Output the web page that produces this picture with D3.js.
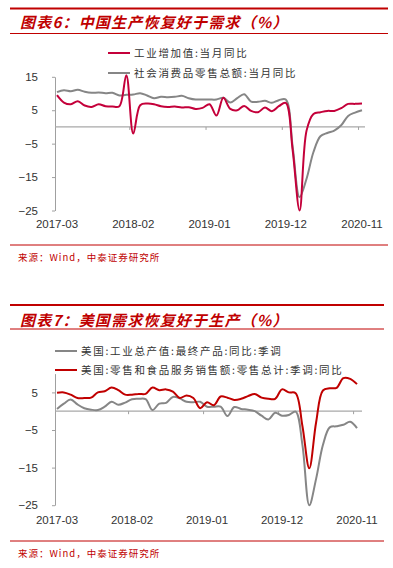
<!DOCTYPE html>
<html><head><meta charset="utf-8">
<script src="https://cdn.jsdelivr.net/npm/d3@7/dist/d3.min.js"></script>
<style>body{margin:0;background:#fff}svg{display:block}</style>
</head><body>
<script>
const months = ["2017-03","2017-04","2017-05","2017-06","2017-07","2017-08","2017-09","2017-10","2017-11","2017-12",
"2018-01","2018-02","2018-03","2018-04","2018-05","2018-06","2018-07","2018-08","2018-09","2018-10","2018-11","2018-12",
"2019-01","2019-02","2019-03","2019-04","2019-05","2019-06","2019-07","2019-08","2019-09","2019-10","2019-11","2019-12",
"2020-01","2020-02","2020-03","2020-04","2020-05","2020-06","2020-07","2020-08","2020-09","2020-10","2020-11"];
const tickLabels = ["2017-03","2018-02","2019-01","2019-12","2020-11"];
const yTickValues = [15,5,-5,-15,-25];

// Chart 6: China
const chinaIndustry = [9.5,7.3,6.8,7.7,6.4,6.0,6.8,6.2,6.1,6.2,
15.5,-2.0,6.5,7.0,6.8,6.2,6.0,6.1,5.8,5.9,5.4,5.7,
6.8,3.4,8.7,5.4,5.0,6.3,4.8,4.4,5.8,4.7,6.2,7.2,
-7,-25,-1.1,3.9,4.4,4.8,4.8,5.6,6.9,6.9,7.0];
const chinaRetail = [10.4,11.0,10.7,11.1,10.5,10.2,10.3,10.1,10.2,9.4,
9.6,9.7,10.1,9.4,8.6,9.0,8.9,9.0,9.3,8.6,8.2,8.2,
8.2,8.2,8.7,7.3,8.6,9.8,7.6,7.5,7.8,7.2,8.0,8.2,
-6,-21,-15.5,-7.5,-2.8,-1.8,-1.1,0.5,3.3,4.3,5.0];

// Chart 7: US
const usIndustry = [0.6,2.0,3.1,1.8,0.8,0.4,0.3,1.2,2.5,1.7,
2.3,3.2,3.3,3.2,0.3,2.0,2.2,3.8,3.4,2.5,2.4,2.5,
1.2,1.2,1.2,-1.3,1.1,0.6,0.4,0.0,-1.2,-2.2,-0.4,-1.2,
-1.0,-0.1,-9,-25,-18,-9,-4.3,-4.0,-3.6,-2.8,-4.5];
const usRetail = [4.9,5.0,4.4,3.5,3.5,3.6,5.0,5.3,6.3,5.6,
4.4,4.4,4.6,4.6,6.3,5.6,5.8,5.2,3.5,4.2,3.5,0.8,
2.4,1.6,3.9,3.6,3.0,3.3,4.0,4.6,3.6,3.3,3.3,5.8,
5.0,4.8,-4.0,-15.2,-3.0,5.5,6.1,6.2,8.8,8.6,7.2];

const RED = "#c00000";
const GRAY = "#868686";
const CJK = "'Noto Sans CJK SC', 'Noto Sans', sans-serif";
const LAT = "'Liberation Sans', Arial, sans-serif";

const svg = d3.select("body").append("svg").attr("width",393).attr("height",568);

function fmt(d){ return d < 0 ? "\u2212" + Math.abs(d) : String(d); }

function drawChart(c){
  const g = svg.append("g");
  // header rules and title
  g.append("line").attr("x1",10).attr("x2",c.right).attr("y1",c.top).attr("y2",c.top)
    .attr("stroke",RED).attr("stroke-width",2);
  g.append("text").attr("x",20).attr("y",c.titleY).text(c.title)
    .attr("fill",RED).attr("font-family",CJK).attr("font-size",15).attr("font-weight","bold")
    .attr("font-style","italic").attr("letter-spacing",1.2);
  g.append("line").attr("x1",10).attr("x2",c.right).attr("y1",c.underY).attr("y2",c.underY)
    .attr("stroke",RED).attr("stroke-width",1);

  const x = d3.scalePoint().domain(months).range(c.xRange);
  const y = d3.scaleLinear().domain(c.yDomain).range(c.yRange);

  // y axis
  const yAxis = d3.axisLeft(y).tickValues(c.yTicks).tickSize(3).tickSizeOuter(0).tickPadding(14).tickFormat(fmt);
  const ya = g.append("g").attr("transform",`translate(${c.axisX},0)`).call(yAxis);
  ya.select(".domain").attr("stroke","#a0a0a0");
  ya.selectAll(".tick line").attr("stroke","#a0a0a0");
  ya.selectAll(".tick text").attr("fill","#333").attr("font-family",LAT).attr("font-size",11.5);

  // zero line + x ticks
  g.append("line").attr("x1",c.axisX).attr("x2",c.zeroEnd).attr("y1",y(0)).attr("y2",y(0))
    .attr("stroke","#a8a8a8").attr("stroke-width",1.2);
  const half = x.step()/2;
  g.selectAll(".xt").data(tickLabels.slice(1)).join("line")
    .attr("x1",d=>x(d)-half).attr("x2",d=>x(d)-half).attr("y1",y(0)).attr("y2",y(0)+3)
    .attr("stroke","#a0a0a0");
  g.selectAll(".xl").data(tickLabels).join("text")
    .attr("x",d=>x(d)).attr("y",c.labelY).attr("text-anchor","middle").text(d=>d)
    .attr("fill","#333").attr("font-family",LAT).attr("font-size",11.5);

  // series
  const line = d3.line().x((d,i)=>x(months[i])).y(d=>y(d)).curve(d3.curveCatmullRom.alpha(0.5));
  c.series.forEach(s=>{
    g.append("path").datum(s.values).attr("d",line).attr("fill","none")
      .attr("stroke",s.color).attr("stroke-width",2).attr("stroke-linejoin","round");
  });

  // legend
  c.legend.forEach(l=>{
    g.append("line").attr("x1",c.legX).attr("x2",c.legX+22).attr("y1",l.y).attr("y2",l.y)
      .attr("stroke",l.color).attr("stroke-width",2);
    g.append("text").attr("x",c.legX+26).attr("y",l.y+4).text(l.name)
      .attr("fill","#333").attr("font-family",CJK).attr("font-size",10.5).attr("letter-spacing",1.7);
  });

  // source
  g.append("line").attr("x1",10).attr("x2",c.right).attr("y1",c.srcLineY).attr("y2",c.srcLineY)
    .attr("stroke",RED).attr("stroke-width",1);
  g.append("text").attr("x",18).attr("y",c.srcY).text("来源：Wind，中泰证券研究所")
    .attr("fill",RED).attr("font-family",CJK).attr("font-size",9.5).attr("letter-spacing",1);
}

drawChart({
  top:8.5, right:388, title:"图表6：中国生产恢复好于需求（%）", titleY:28, underY:33.5,
  xRange:[57,362], yDomain:[-25,15], yRange:[210.5,76.8], yTicks:yTickValues,
  axisX:55, zeroEnd:365, labelY:228,
  series:[{values:chinaRetail,color:GRAY},{values:chinaIndustry,color:"#c4003a"}],
  legX:108,
  legend:[{name:"工业增加值:当月同比",color:"#c4003a",y:53},{name:"社会消费品零售总额:当月同比",color:GRAY,y:73}],
  srcLineY:245, srcY:261
});

drawChart({
  top:305, right:384, title:"图表7：美国需求恢复好于生产（%）", titleY:325.5, underY:329,
  xRange:[57,357], yDomain:[-25,10], yRange:[505.2,373.6], yTicks:[5,-5,-15,-25],
  axisX:55, zeroEnd:362, labelY:523.5,
  series:[{values:usIndustry,color:GRAY},{values:usRetail,color:RED}],
  legX:55,
  legend:[{name:"美国:工业总产值:最终产品:同比:季调",color:GRAY,y:351},{name:"美国:零售和食品服务销售额:零售总计:季调:同比",color:RED,y:370}],
  srcLineY:541, srcY:557
});
</script>
</body></html>
